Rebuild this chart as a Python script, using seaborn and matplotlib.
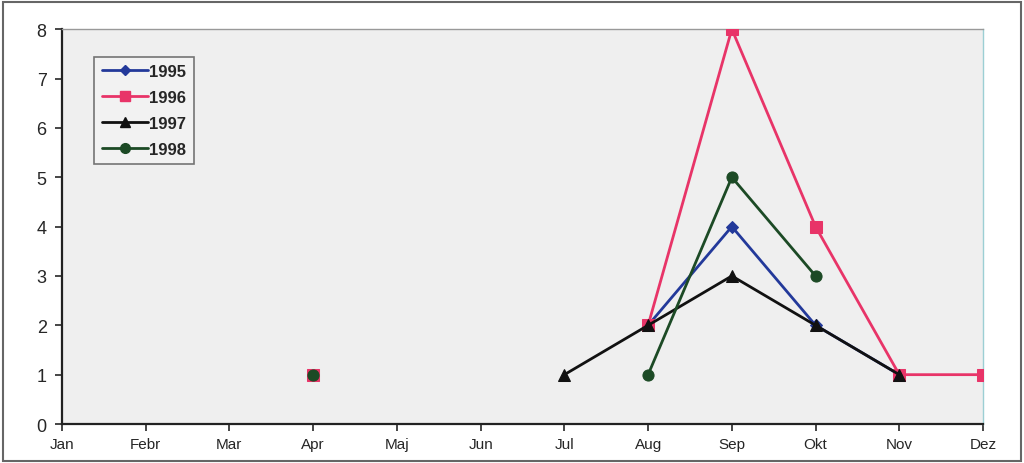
import numpy as np
import pandas as pd
import matplotlib
matplotlib.use('Agg')
import matplotlib.pyplot as plt
from matplotlib.lines import Line2D
from matplotlib.patches import Rectangle
import seaborn as sns

# Datos (NaN = sin valor).
meses = ['Jan', 'Febr', 'Mar', 'Apr', 'Maj', 'Jun', 'Jul', 'Aug', 'Sep', 'Okt', 'Nov', 'Dez']
nan = np.nan
v1995 = [nan, nan, nan, nan, nan, nan, nan, 2, 4, 2, 1, nan]
v1996 = [nan, nan, nan, 1, nan, nan, nan, 2, 8, 4, 1, 1]
v1997 = [nan, nan, nan, nan, nan, nan, 1, 2, 3, 2, 1, nan]
v1998 = [nan, nan, nan, 1, nan, nan, nan, 1, 5, 3, nan, nan]

series = {'1995': v1995, '1996': v1996, '1997': v1997, '1998': v1998}
estilos = {
    '1995': dict(color='#23399a', marker='D', ms=6),
    '1996': dict(color='#e83468', marker='s', ms=8),
    '1997': dict(color='#111111', marker='^', ms=8),
    '1998': dict(color='#1c4a25', marker='o', ms=8),
}

sns.set_style('white')
plt.rcParams['font.family'] = ['Liberation Sans Narrow', 'Liberation Sans', 'DejaVu Sans']

fig = plt.figure(figsize=(10.24, 4.64), dpi=100)
ax = fig.add_axes([0.0605, 0.084, 0.8995, 0.851])
ax.set_facecolor('#efefef')

for anio, valores in series.items():
    df = pd.DataFrame({'x': np.arange(len(meses)), 'y': valores})
    # Tramos contiguos, para no unir puntos a través de huecos.
    df['tramo'] = df['y'].isna().cumsum()
    df = df.dropna()
    e = estilos[anio]
    for _, d in df.groupby('tramo'):
        sns.lineplot(data=d, x='x', y='y', ax=ax, color=e['color'], lw=2,
                     marker=e['marker'], markersize=e['ms'],
                     markeredgecolor=e['color'], zorder=3)

ax.set_xlim(0, 11)
ax.set_ylim(0, 8)
ax.set_xticks(np.arange(len(meses)))
ax.set_xticklabels(meses, fontsize=11)
ax.set_yticks(range(0, 9))
ax.tick_params(axis='y', labelsize=13, length=5, width=1.2, direction='out', left=True, pad=6)
ax.tick_params(axis='x', length=5, width=1.2, direction='out', bottom=True, pad=4)
ax.set_xlabel('')
ax.set_ylabel('')

for lado in ['left', 'bottom']:
    ax.spines[lado].set_color('#222222')
    ax.spines[lado].set_linewidth(1.6)
ax.spines['top'].set_color('#999999')
ax.spines['top'].set_linewidth(1)
ax.spines['right'].set_color('#9ccfd4')
ax.spines['right'].set_linewidth(1)

# Leyenda.
manejadores = [Line2D([], [], color=estilos[a]['color'], lw=2, marker=estilos[a]['marker'],
                      markersize=estilos[a]['ms'] - 1, label=a) for a in series]
leg = ax.legend(handles=manejadores, loc='upper left', bbox_to_anchor=(0.035, 0.93),
                borderaxespad=0, frameon=True, fancybox=False, handlelength=2.8,
                labelspacing=0.65, borderpad=0.45, handletextpad=0.05,
                prop={'weight': 'bold', 'size': 12})
leg.get_frame().set_edgecolor('#555555')
leg.get_frame().set_facecolor('#f4f4f4')
leg.get_frame().set_linewidth(1.2)

# Marco de la figura.
fig.patches.append(Rectangle((0.003, 0.004), 0.994, 0.99, transform=fig.transFigure,
                             fill=False, edgecolor='#666666', lw=1.5))

fig.savefig('out.png', dpi=100)
